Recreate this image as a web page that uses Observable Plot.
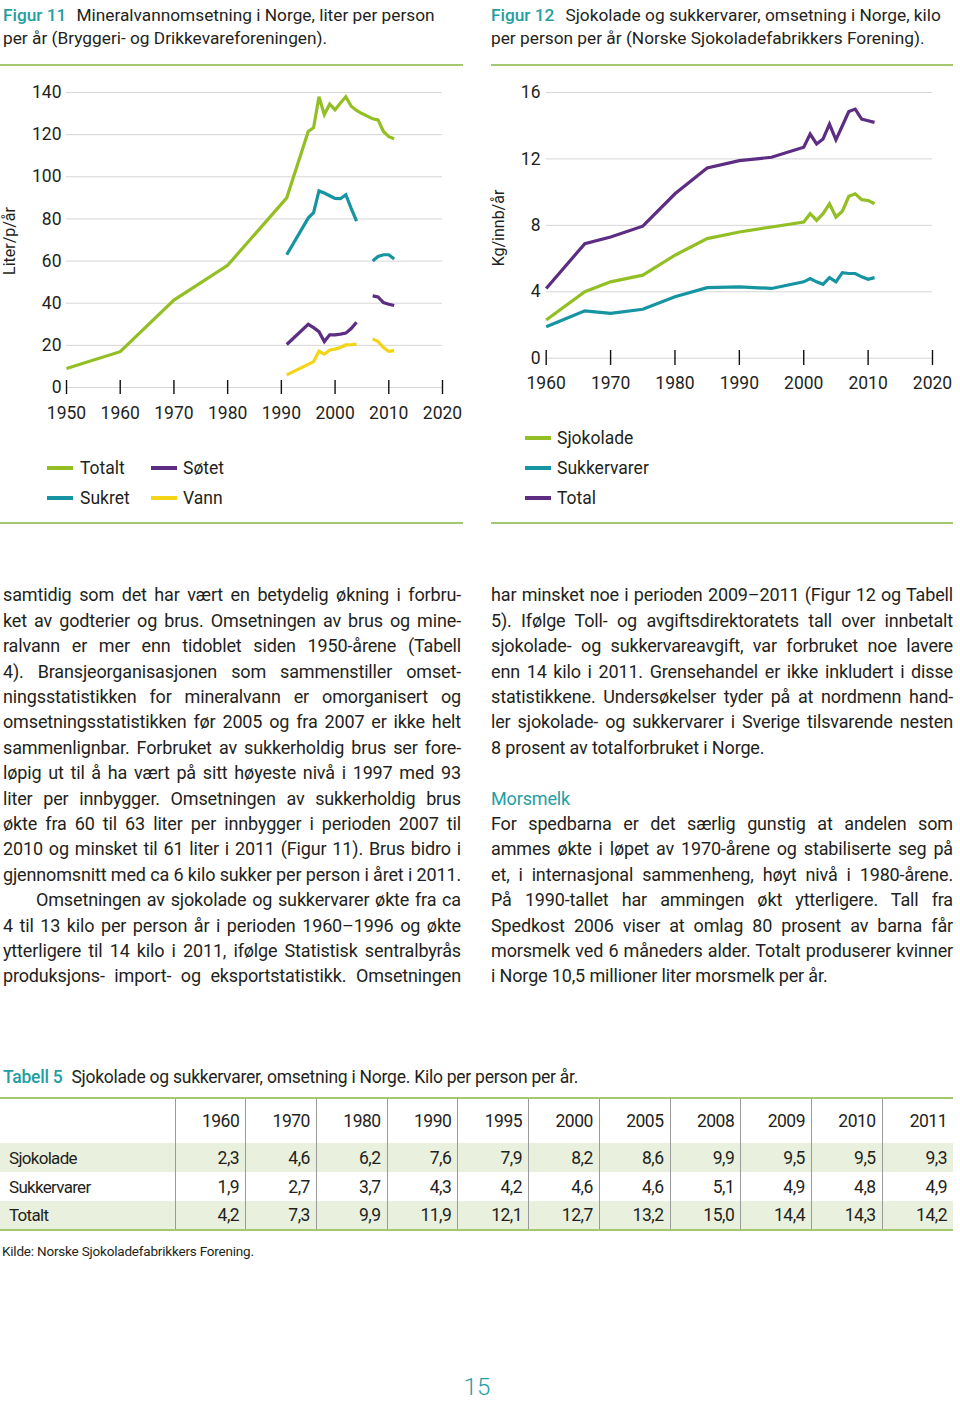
<!DOCTYPE html>
<html><head><meta charset="utf-8">
<script src="https://cdn.jsdelivr.net/npm/d3@7"></script>
<script src="https://cdn.jsdelivr.net/npm/@observablehq/plot@0.6"></script>
<style>
html,body{margin:0;padding:0;background:#fff;}
#page{position:relative;width:960px;height:1403px;overflow:hidden;font-family:Roboto,"Noto Sans",sans-serif;color:#231f20;background:#fff;}
.abs{position:absolute;white-space:nowrap;}
.teal{color:#1f9ea3;}
.rule{position:absolute;height:2px;background:#a4c870;}
.sw{position:absolute;height:4px;width:26px;}
.chart{position:absolute;}
table.t5{position:absolute;left:0;top:1097px;width:953px;border-collapse:collapse;table-layout:fixed;font-size:17.5px;letter-spacing:-0.5px;border-top:2px solid #a4c870;border-bottom:2px solid #a4c870;}
table.t5 td,table.t5 th{padding:0 6px 0 0;text-align:right;font-weight:400;border-left:1px solid #9a9a9a;}
table.t5 td.lab,table.t5 th.lab{text-align:left;padding-left:9px;border-left:none;letter-spacing:-0.7px;font-size:17px;}
table.t5 tr.h{height:45px;}
table.t5 tr.r{height:29px;}
table.t5 tr.g{background:#e9f1de;}
</style></head><body><div id="page"></div>
<script>
// ---------- Data: Figur 11 (liter per person per år) ----------
const fig11TotYears = [1950,1960,1970,1980,1991,1995,1996,1997,1998,1999,2000,2001,2002,2003,2004,2005,2006,2007,2008,2009,2010,2011];
const fig11Totalt   = [9,17,41.5,58,90,121.5,123.3,138,129.5,134.5,131.8,135,138,133.5,131.5,130,128.8,127.5,127,121.5,119,118];
const fig11SubYears = [1991,1995,1996,1997,1998,1999,2000,2001,2002,2003,2004,2005,2006,2007,2008,2009,2010,2011];
const fig11Sukret   = [63,80.4,83,93.3,92.3,91,89.7,89.6,91.5,85,79,null,null,60,62.2,63,63,61];
const fig11Sotet    = [20.4,30,28.4,26.5,21.8,25,25,25.3,25.8,28,31,null,null,43.5,43,40.3,39.5,38.9];
const fig11Vann     = [6,11,12.3,17.2,15.8,17.8,18.2,19,20.2,20.3,20.6,null,null,23.1,21.8,19,17.2,17.5];
const fig11XTicks = [1950,1960,1970,1980,1990,2000,2010,2020];
const fig11YTicks = [0,20,40,60,80,100,120,140];

// ---------- Data: Figur 12 (kg per innbygger per år) ----------
const fig12Years       = [1960,1966,1970,1975,1980,1985,1990,1995,2000,2001,2002,2003,2004,2005,2006,2007,2008,2009,2010,2011];
const fig12Sjokolade   = [2.3,4.0,4.6,5.0,6.2,7.2,7.6,7.9,8.2,8.7,8.3,8.7,9.3,8.5,8.85,9.75,9.9,9.55,9.5,9.3];
const fig12Sukkervarer = [1.9,2.85,2.7,2.95,3.7,4.25,4.3,4.2,4.6,4.8,4.6,4.45,4.85,4.6,5.15,5.1,5.1,4.9,4.75,4.85];
const fig12Total       = [4.2,6.9,7.3,7.95,9.9,11.45,11.9,12.1,12.7,13.5,12.9,13.2,14.1,13.15,14.0,14.85,15.0,14.4,14.3,14.2];
const fig12XTicks = [1960,1970,1980,1990,2000,2010,2020];
const fig12YTicks = [0,4,8,12,16];

// ---------- Data: Tabell 5 ----------
const t5Years       = [1960,1970,1980,1990,1995,2000,2005,2008,2009,2010,2011];
const t5Sjokolade   = ["2,3","4,6","6,2","7,6","7,9","8,2","8,6","9,9","9,5","9,5","9,3"];
const t5Sukkervarer = ["1,9","2,7","3,7","4,3","4,2","4,6","4,6","5,1","4,9","4,8","4,9"];
const t5Totalt      = ["4,2","7,3","9,9","11,9","12,1","12,7","13,2","15,0","14,4","14,3","14,2"];

const GREEN = "#93bf24", TEAL = "#1694a1", PURPLE = "#5c2d82", YELLOW = "#f3d417";
const page = document.getElementById("page");

function el(tag, cls, css, html) {
  const e = document.createElement(tag);
  if (cls) e.className = cls;
  if (css) Object.assign(e.style, css);
  if (html != null) e.innerHTML = html;
  page.appendChild(e);
  return e;
}

// ---------- Figure titles & rules ----------
const titleCss = {fontSize:"17.3px", lineHeight:"23px"};
el("div","abs",Object.assign({left:"3px",top:"3.5px"},titleCss),'<span class="teal" style="font-weight:500;margin-right:10px">Figur 11</span>Mineralvannomsetning i Norge, liter per person');
el("div","abs",Object.assign({left:"3px",top:"26.5px"},titleCss),'per år (Bryggeri- og Drikkevareforeningen).');
el("div","abs",Object.assign({left:"491px",top:"3.5px"},titleCss),'<span class="teal" style="font-weight:500;margin-right:11px">Figur 12</span>Sjokolade og sukkervarer, omsetning i Norge, kilo');
el("div","abs",Object.assign({left:"491px",top:"26.5px"},titleCss),'per person per år (Norske Sjokoladefabrikkers Forening).');
el("div","rule",{left:"0px",top:"64px",width:"463px"});
el("div","rule",{left:"491px",top:"64px",width:"462px"});
el("div","rule",{left:"0px",top:"522px",width:"463px"});
el("div","rule",{left:"491px",top:"522px",width:"462px"});

// ---------- Chart helpers ----------
const axisStyle = {fontFamily:"Roboto, sans-serif", fontSize:"17.5px", color:"#231f20", background:"transparent", overflow:"visible"};
function lineMark(data, x, y, stroke) {
  return Plot.line(data, {x, y, stroke, strokeWidth:3.2, strokeLinejoin:"miter", strokeMiterlimit:4, strokeLinecap:"butt"});
}

// ---------- Figur 11 ----------
const fig11Tot = fig11TotYears.map((year,i)=>({year, value: fig11Totalt[i]}));
const fig11Sub = fig11SubYears.map((year,i)=>({year, Sukret: fig11Sukret[i], Sotet: fig11Sotet[i], Vann: fig11Vann[i]}));
const chart1 = Plot.plot({
  width:480, height:360,
  marginLeft:66, marginRight:38, marginTop:21, marginBottom:51,
  style: axisStyle,
  x:{domain:[1950,2020], range:[66,442]},
  y:{domain:[0,140], range:[316,21]},
  marks:[
    Plot.gridY(fig11YTicks, {stroke:"#d6d6d6", strokeOpacity:1, strokeWidth:1}),
    Plot.axisY(fig11YTicks, {tickSize:0, tickPadding:5, label:null, tickFormat:d=>String(d)}),
    Plot.axisX(fig11XTicks, {tickSize:14, tickPadding:12, label:null, tickFormat:d=>String(d), stroke:"#111", strokeWidth:1.4}),
    lineMark(fig11Tot, "year", "value", GREEN),
    lineMark(fig11Sub, "year", "Sukret", TEAL),
    lineMark(fig11Sub, "year", "Sotet", PURPLE),
    lineMark(fig11Sub, "year", "Vann", YELLOW)
  ]
});
chart1.classList.add("chart"); chart1.style.left="0px"; chart1.style.top="71px";
page.appendChild(chart1);

// ---------- Figur 12 ----------
const fig12Data = fig12Years.map((year,i)=>({year, Sjokolade: fig12Sjokolade[i], Sukkervarer: fig12Sukkervarer[i], Total: fig12Total[i]}));
const chart2 = Plot.plot({
  width:480, height:360,
  marginLeft:66, marginRight:28, marginTop:21, marginBottom:81,
  style: axisStyle,
  x:{domain:[1960,2020], range:[65.7,452]},
  y:{domain:[0,16], range:[286.7,21]},
  marks:[
    Plot.gridY(fig12YTicks, {stroke:"#d6d6d6", strokeOpacity:1, strokeWidth:1}),
    Plot.axisY(fig12YTicks, {tickSize:0, tickPadding:6, label:null, tickFormat:d=>String(d)}),
    Plot.axisX(fig12XTicks, {tickSize:15, tickPadding:11, label:null, tickFormat:d=>String(d), stroke:"#111", strokeWidth:1.4}),
    lineMark(fig12Data, "year", "Sukkervarer", TEAL),
    lineMark(fig12Data, "year", "Sjokolade", GREEN),
    lineMark(fig12Data, "year", "Total", PURPLE)
  ]
});
chart2.classList.add("chart"); chart2.style.left="480px"; chart2.style.top="71px";
page.appendChild(chart2);

// ---------- Rotated axis labels ----------
function vlabel(text, cx, cy) {
  el("div","abs",{left:cx+"px",top:cy+"px",fontSize:"16px",lineHeight:"18px",transform:"translate(-50%,-50%) rotate(-90deg)"},text);
}
vlabel("Liter/p/år", 10, 241);
vlabel("Kg/innb/år", 499, 228);

// ---------- Legends ----------
function legendItem(text, color, sx, tx, cy) {
  el("div","sw",{left:sx+"px",top:(cy-2)+"px",background:color});
  el("div","abs",{left:tx+"px",top:(cy-11)+"px",fontSize:"17.5px",lineHeight:"22px"},text);
}
legendItem("Totalt", GREEN, 47, 80, 468);
legendItem("Søtet", PURPLE, 151, 183, 468);
legendItem("Sukret", TEAL, 47, 80, 498);
legendItem("Vann", YELLOW, 151, 183, 498);
legendItem("Sjokolade", GREEN, 525, 557, 438);
legendItem("Sukkervarer", TEAL, 525, 557, 468);
legendItem("Total", PURPLE, 525, 557, 498);

// ---------- Body text ----------
const leftLines = [
  ["samtidig som det har vært en betydelig økning i forbru-",1],
  ["ket av godterier og brus. Omsetningen av brus og mine-",1],
  ["ralvann er mer enn tidoblet siden 1950-årene (Tabell",1],
  ["4). Bransjeorganisasjonen som sammenstiller omset-",1],
  ["ningsstatistikken for mineralvann er omorganisert og",1],
  ["omsetningsstatistikken før 2005 og fra 2007 er ikke helt",1],
  ["sammenlignbar. Forbruket av sukkerholdig brus ser fore-",1],
  ["løpig ut til å ha vært på sitt høyeste nivå i 1997 med 93",1],
  ["liter per innbygger. Omsetningen av sukkerholdig brus",1],
  ["økte fra 60 til 63 liter per innbygger i perioden 2007 til",1],
  ["2010 og minsket til 61 liter i 2011 (Figur 11). Brus bidro i",1],
  ["gjennomsnitt med ca 6 kilo sukker per person i året i 2011.",1],
  ["Omsetningen av sjokolade og sukkervarer økte fra ca",1,33],
  ["4 til 13 kilo per person år i perioden 1960–1996 og økte",1],
  ["ytterligere til 14 kilo i 2011, ifølge Statistisk sentralbyrås",1],
  ["produksjons- import- og eksportstatistikk. Omsetningen",1]
];
const rightLines = [
  ["har minsket noe i perioden 2009–2011 (Figur 12 og Tabell",1],
  ["5). Ifølge Toll- og avgiftsdirektoratets tall over innbetalt",1],
  ["sjokolade- og sukkervareavgift, var forbruket noe lavere",1],
  ["enn 14 kilo i 2011. Grensehandel er ikke inkludert i disse",1],
  ["statistikkene. Undersøkelser tyder på at nordmenn hand-",1],
  ["ler sjokolade- og sukkervarer i Sverige tilsvarende nesten",1],
  ["8 prosent av totalforbruket i Norge.",0],
  null,
  ["Morsmelk",0,0,true],
  ["For spedbarna er det særlig gunstig at andelen som",1],
  ["ammes økte i løpet av 1970-årene og stabiliserte seg på",1],
  ["et, i internasjonal sammenheng, høyt nivå i 1980-årene.",1],
  ["På 1990-tallet har ammingen økt ytterligere. Tall fra",1],
  ["Spedkost 2006 viser at omlag 80 prosent av barna får",1],
  ["morsmelk ved 6 måneders alder. Totalt produserer kvinner",1],
  ["i Norge 10,5 millioner liter morsmelk per år.",0]
];
const LH = 25.4, TOP0 = 595;
function bodyCol(lines, x0, x1) {
  lines.forEach((ln, i) => {
    if (!ln) return;
    const [text, just, indent=0, head=false] = ln;
    const cy = TOP0 + i*LH;
    const d = el("div","abs" + (head?" teal":""),{left:(x0+indent)+"px",top:(cy-LH/2)+"px",height:LH+"px",lineHeight:LH+"px",fontSize:"18px",letterSpacing:"-0.15px"});
    d.textContent = text;
    if (just) {
      const w = d.getBoundingClientRect().width;
      const n = (text.match(/ /g)||[]).length;
      if (n) d.style.wordSpacing = ((x1 - x0 - indent - w)/n) + "px";
    }
  });
}
bodyCol(leftLines, 3, 461);
bodyCol(rightLines, 491, 953);

// ---------- Tabell 5 ----------
el("div","abs",{left:"3px",top:"1066px",fontSize:"17.5px",lineHeight:"22px",letterSpacing:"-0.25px"},'<span class="teal" style="font-weight:500;margin-right:9px">Tabell 5</span>Sjokolade og sukkervarer, omsetning i Norge. Kilo per person per år.');
const tbl = document.createElement("table");
tbl.className = "t5";
let html = '<colgroup><col style="width:175px">' + t5Years.map(()=>'<col>').join('') + '</colgroup>';
html += '<tr class="h"><th class="lab"></th>' + t5Years.map(y=>'<th>'+y+'</th>').join('') + '</tr>';
[["Sjokolade",t5Sjokolade,"g"],["Sukkervarer",t5Sukkervarer,""],["Totalt",t5Totalt,"g"]].forEach(([lab,vals,cls])=>{
  html += '<tr class="r '+cls+'"><td class="lab">'+lab+'</td>' + vals.map(v=>'<td>'+v+'</td>').join('') + '</tr>';
});
tbl.innerHTML = html;
page.appendChild(tbl);
el("div","abs",{left:"2px",top:"1243px",fontSize:"13.5px",lineHeight:"16px",letterSpacing:"-0.2px"},"Kilde: Norske Sjokoladefabrikkers Forening.");

// ---------- Page number ----------
el("div","abs teal",{left:"477px",top:"1387px",fontSize:"24px",lineHeight:"28px",fontWeight:"300",transform:"translate(-50%,-50%)"},"15");
</script>
</body></html>
